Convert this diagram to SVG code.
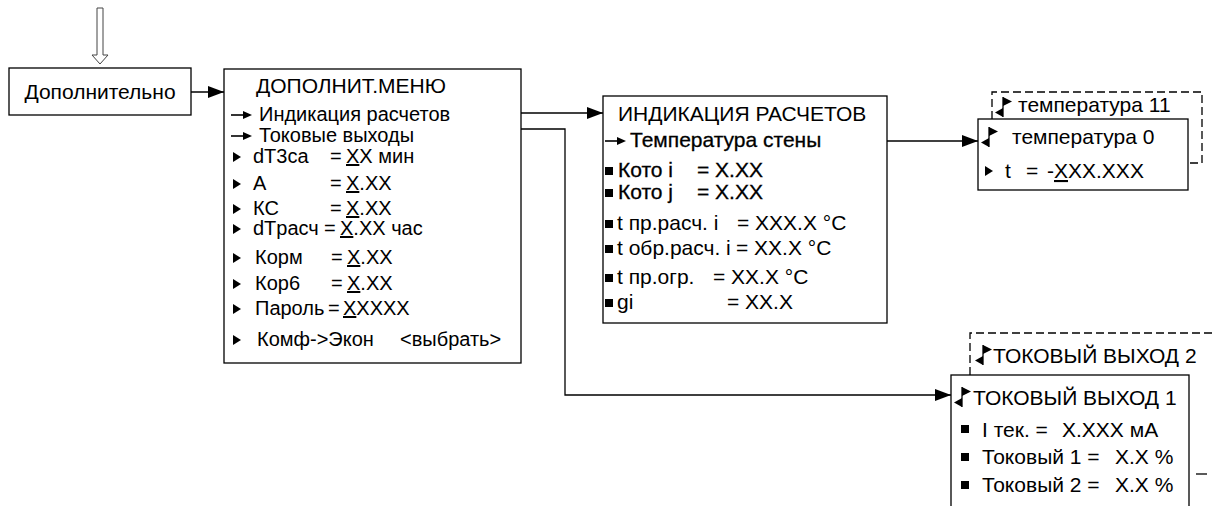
<svg xmlns="http://www.w3.org/2000/svg" width="1213" height="506" viewBox="0 0 1213 506">
<style>
text{font-family:"Liberation Sans",Arial,sans-serif;font-size:21px;fill:#000}
.p{font-size:20px}
.b{fill:#fff;stroke:#000;stroke-width:1.3}
.c{fill:none;stroke:#000;stroke-width:1.3}
.d{fill:none;stroke:#000;stroke-width:1.3;stroke-dasharray:8 4}
.sb{stroke:#000;stroke-width:0.3}
</style>
<defs>
<marker id="ah" markerUnits="userSpaceOnUse" markerWidth="17" markerHeight="12" refX="16" refY="6" orient="auto"><path d="M0,0 L16,6 L0,12 Z" fill="#000"/></marker>
<path id="tri" d="M0,-5 L8,0 L0,5 Z" fill="#000"/>
<rect id="sq" x="-4" y="-4" width="8" height="8" fill="#000"/>
<g id="arw"><line x1="0" y1="0" x2="14" y2="0" stroke="#000" stroke-width="1.6"/><path d="M12,-4 L21,0 L12,4 Z" fill="#000"/></g>
<g id="scr"><line x1="0" y1="-10" x2="0" y2="10" stroke="#000" stroke-width="1.3"/><path d="M0,-10 L9,-5.5 L0,-1 Z" fill="#000"/><path d="M0,1 L-8,5.5 L0,10 Z" fill="#000"/></g>
</defs>

<g id="entry-arrow"><path d="M97,8 H103 V55 H108 L100,64 L92,55 H97 Z" fill="#fff" stroke="#444" stroke-width="1"/></g>

<g id="node-dop">
<rect class="b" x="9" y="68" width="182" height="47"/>
<text x="100" y="99" text-anchor="middle">Дополнительно</text>
</g>

<g id="node-menu">
<rect class="b" x="224" y="69" width="297" height="294"/>
<text x="256" y="93">ДОПОЛНИТ.МЕНЮ</text>
<use href="#arw" x="231" y="115"/><text x="259" y="121" class="p">Индикация расчетов</text>
<use href="#arw" x="231" y="136"/><text x="259" y="142" class="p">Токовые выходы</text>
<use href="#tri" x="233" y="157"/><text class="p" y="163"><tspan x="253">dT3ca</tspan><tspan x="330">=</tspan><tspan x="346" text-decoration="underline">X</tspan><tspan>X мин</tspan></text>
<use href="#tri" x="233" y="184"/><text class="p" y="190"><tspan x="253">A</tspan><tspan x="330">=</tspan><tspan x="346" text-decoration="underline">X</tspan><tspan>.XX</tspan></text>
<use href="#tri" x="233" y="209"/><text class="p" y="215"><tspan x="253">КС</tspan><tspan x="330">=</tspan><tspan x="346" text-decoration="underline">X</tspan><tspan>.XX</tspan></text>
<use href="#tri" x="233" y="229"/><text class="p" y="235"><tspan x="253">dTрасч</tspan><tspan x="324">=</tspan><tspan x="340" text-decoration="underline">X</tspan><tspan>.XX час</tspan></text>
<use href="#tri" x="233" y="258"/><text class="p" y="264"><tspan x="255">Корм</tspan><tspan x="331">=</tspan><tspan x="347" text-decoration="underline">X</tspan><tspan>.XX</tspan></text>
<use href="#tri" x="233" y="284"/><text class="p" y="290"><tspan x="255">Кор6</tspan><tspan x="331">=</tspan><tspan x="347" text-decoration="underline">X</tspan><tspan>.XX</tspan></text>
<use href="#tri" x="233" y="309"/><text class="p" y="315"><tspan x="255">Пароль</tspan><tspan x="328">=</tspan><tspan x="343" text-decoration="underline">X</tspan><tspan>XXXX</tspan></text>
<use href="#tri" x="233" y="340"/><text class="p" y="346"><tspan x="257">Комф-&gt;Экон</tspan><tspan x="400">&lt;выбрать&gt;</tspan></text>
</g>

<g id="node-ind">
<rect class="b" x="603" y="96" width="284" height="227"/>
<text x="618" y="121">ИНДИКАЦИЯ РАСЧЕТОВ</text>
<use href="#arw" x="605" y="141"/><text x="630" y="147" class="sb">Температура стены</text>
<use href="#sq" x="609" y="171"/><text y="177" class="sb"><tspan x="618">Кото i</tspan><tspan x="697">= X.XX</tspan></text>
<use href="#sq" x="609" y="193"/><text y="199" class="sb"><tspan x="618">Кото j</tspan><tspan x="697">= X.XX</tspan></text>
<use href="#sq" x="609" y="224"/><text y="230"><tspan x="617">t пр.расч. i</tspan><tspan x="737">= XXX.X °C</tspan></text>
<use href="#sq" x="609" y="249"/><text y="255"><tspan x="617">t обр.расч. i</tspan><tspan x="736">= XX.X °C</tspan></text>
<use href="#sq" x="609" y="278"/><text y="284"><tspan x="617">t пр.огр.</tspan><tspan x="713">= XX.X °C</tspan></text>
<use href="#sq" x="609" y="303"/><text y="309"><tspan x="617">gi</tspan><tspan x="727">= XX.X</tspan></text>
</g>

<g id="node-temp">
<path class="d" d="M992,119 V92 H1202 V163 H1188"/>
<use href="#scr" x="1003" y="107"/><text x="1018" y="112">температура 11</text>
<rect class="b" x="978" y="119" width="210" height="71"/>
<use href="#scr" x="989" y="137"/><text x="1012" y="144">температура 0</text>
<use href="#tri" x="985" y="171"/><text y="178"><tspan x="1005">t</tspan><tspan x="1026">=</tspan><tspan x="1047">-</tspan><tspan text-decoration="underline">X</tspan><tspan>XX.XXX</tspan></text>
</g>

<g id="node-tok">
<path class="d" d="M970,375 V333 H1213"/>
<line class="c" x1="1196" y1="474" x2="1207" y2="474"/>
<use href="#scr" x="983" y="355"/><text x="993" y="363">ТОКОВЫЙ ВЫХОД 2</text>
<rect class="b" x="951" y="375" width="238" height="140"/>
<use href="#scr" x="962" y="397"/><text x="973" y="405">ТОКОВЫЙ ВЫХОД 1</text>
<use href="#sq" x="965" y="429"/><text y="437"><tspan x="982">I тек. =</tspan><tspan x="1062">X.XXX мА</tspan></text>
<use href="#sq" x="965" y="457"/><text y="464"><tspan x="982">Токовый 1 =</tspan><tspan x="1115">X.X %</tspan></text>
<use href="#sq" x="965" y="485"/><text y="492"><tspan x="982">Токовый 2 =</tspan><tspan x="1115">X.X %</tspan></text>
</g>

<g id="connectors">
<line class="c" x1="191" y1="92" x2="224" y2="92" marker-end="url(#ah)"/>
<line class="c" x1="521" y1="113" x2="603" y2="113" marker-end="url(#ah)"/>
<polyline class="c" points="521,129 565,129 565,395 951,395" marker-end="url(#ah)"/>
<line class="c" x1="887" y1="141" x2="978" y2="141" marker-end="url(#ah)"/>
</g>
</svg>
